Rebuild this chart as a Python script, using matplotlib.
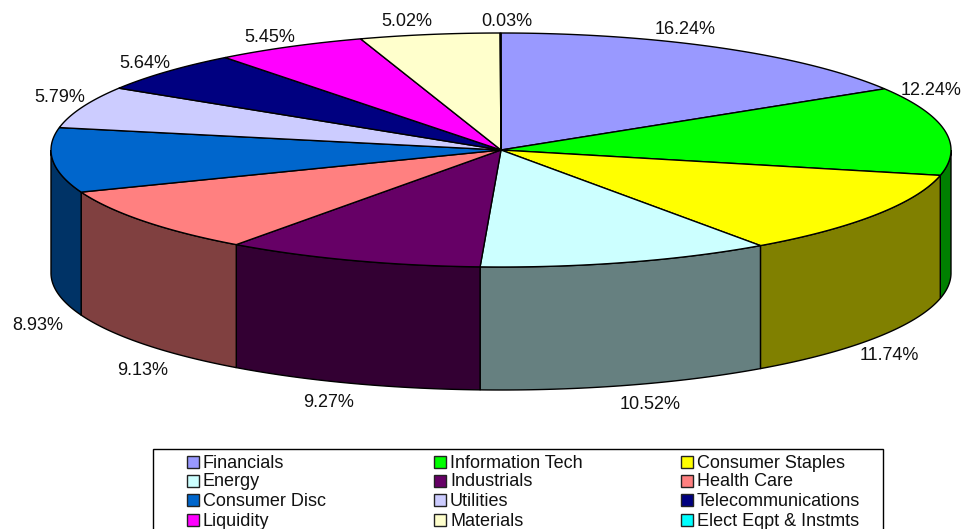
import matplotlib
matplotlib.use('Agg')
import matplotlib.pyplot as plt
from matplotlib.patches import Polygon, Rectangle
import numpy as np

plt.rcParams['font.family'] = ['Liberation Sans', 'DejaVu Sans']

categories = ['Financials', 'Information Tech', 'Consumer Staples', 'Energy',
              'Industrials', 'Health Care', 'Consumer Disc', 'Utilities',
              'Telecommunications', 'Liquidity', 'Materials', 'Elect Eqpt & Instmts']
values = [16.24, 12.24, 11.74, 10.52, 9.27, 9.13, 8.93, 5.79, 5.64, 5.45, 5.02, 0.03]
colors = ['#9999ff', '#00ff00', '#ffff00', '#ccffff', '#660066', '#ff8080',
          '#0066cc', '#ccccff', '#000080', '#ff00ff', '#ffffcc', '#00ffff']
side_colors = ['#4d4d80', '#008000', '#808000', '#668080', '#330033', '#804040',
               '#003366', '#666680', '#000040', '#800080', '#808066', '#008080']
# label offset from the rim point at the middle of each slice, in pixels
label_dx = [-36, -14, 14, 23, -23, -2, -15, -22, -22, -20, -23, 6]
label_dy = [-19, -41, 17, 18, 18, 25, 41, -11, -9, -10, -14, -13]

cx, cy = 501, 150
rx, ry = 450, 117
depth = 123

fig = plt.figure(figsize=(9.75, 5.29), dpi=100)
ax = fig.add_axes([0, 0, 1, 1])
ax.set_xlim(0, 975)
ax.set_ylim(529, 0)
ax.axis('off')

def rim(a):
    # a in degrees, clockwise from twelve o'clock
    a = np.radians(a)
    return cx + rx * np.sin(a), cy - ry * np.cos(a)

edges = np.cumsum([0] + values) / sum(values) * 360

# side walls first, only the front half of the cylinder shows
for i in range(len(values)):
    a0 = max(edges[i], 90)
    a1 = min(edges[i + 1], 270)
    if a1 <= a0:
        continue
    t = np.linspace(a0, a1, 80)
    x, y = rim(t)
    pts = np.r_[np.c_[x, y], np.c_[x[::-1], y[::-1] + depth]]
    ax.add_patch(Polygon(pts, closed=True, fc=side_colors[i], ec='black', lw=1.0, zorder=2))

# top face
for i in range(len(values)):
    t = np.linspace(edges[i], edges[i + 1], 120)
    x, y = rim(t)
    pts = np.r_[[[cx, cy]], np.c_[x, y]]
    ax.add_patch(Polygon(pts, closed=True, fc=colors[i], ec='black', lw=1.0, zorder=3))

# data labels
for i, v in enumerate(values):
    mid = (edges[i] + edges[i + 1]) / 2
    x, y = rim(mid)
    if 90 < mid < 270:
        y = y + depth
    ax.text(x + label_dx[i], y + label_dy[i] + 1, '%.2f%%' % v, ha='center', va='center',
            fontsize=13, color='#111111', zorder=5)

# legend, filled row by row and cut off by the bottom of the image
ax.add_patch(Rectangle((153, 448.5), 730, 100, fc='white', ec='black', lw=1.0, zorder=4))
col_x = [187, 434, 681]
row_y = [462, 481, 500, 520]
for i, name in enumerate(categories):
    x = col_x[i % 3]
    y = row_y[i // 3]
    ax.add_patch(Rectangle((x, y - 6), 12, 12, fc=colors[i], ec='#222222', lw=1.0, zorder=5))
    ax.text(x + 16, y + 1, name, ha='left', va='center', fontsize=13, color='#111111', zorder=5)

fig.savefig('out.png', dpi=100)
